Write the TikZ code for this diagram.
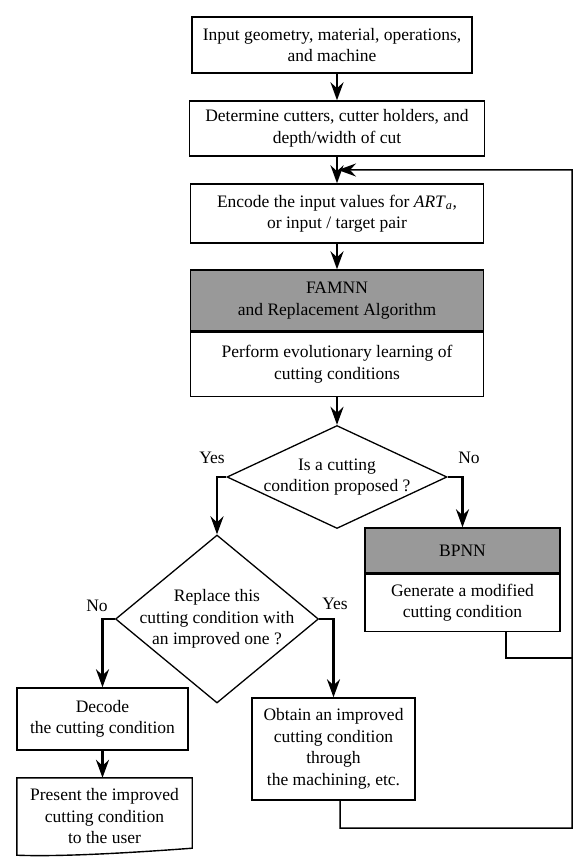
\documentclass[tikz,border=0pt]{standalone}
\usepackage{fontspec}
\setmainfont{Liberation Serif}
\usetikzlibrary{
    positioning,      % 相对定位
    arrows.meta,      % 箭头样式
    shapes.geometric, % 菱形
    calc              % 坐标计算
}

\begin{document}
\begin{tikzpicture}[
        x=1pt, y=-1pt,
        font=\fontsize{17.5}{21.5}\selectfont,
        box/.style={
            rectangle,
            draw=black,
            line width=1.4pt,
            align=center,
            inner sep=2pt,
            fill=#1
        },
        box/.default=white,
        decision/.style={
            diamond,
            draw=black,
            line width=1.3pt,
            inner sep=0pt
        },
        arrow/.style={
            -{Stealth[length=18pt,width=13pt,inset=6pt]},
            line width=2.6pt
        },
        back/.style={
            -{Stealth[length=18pt,width=13pt,inset=6pt]},
            line width=1.5pt
        },
        link/.style={
            line width=1.5pt
        }
    ]
    \path[use as bounding box] (0,0) rectangle (575,858);

    % 上部：输入与编码
    \node[box, minimum width=280pt, minimum height=56pt] (input) at (332,45) {Input geometry, material, operations,\\and machine};
    \node[box, minimum width=295pt, minimum height=55pt] (determine) at (337,128.5) {Determine cutters, cutter holders, and\\depth/width of cut};
    \node[box, minimum width=293pt, minimum height=59pt] (encode) at (337,213.5) {Encode the input values for \textit{ART}\textsubscript{\textit{a}},\\or input / target pair};

    % FAMNN
    \node[box=black!40, minimum width=293pt, minimum height=61pt] (famnn) at (337,300.5) {FAMNN\\and Replacement Algorithm};
    \node[box, minimum width=293pt, minimum height=64pt, below=0pt of famnn] (learn) {Perform evolutionary learning of\\cutting conditions};

    % 第一个判断
    \node[decision, minimum width=220pt, minimum height=103pt] (q1) at (337,477) {};
    \node[align=center] (q1text) at (q1) {Is a cutting\\condition proposed ?};
    \node (yes1) at (212,458) {Yes};
    \node (no1) at (469,458) {No};

    % BPNN
    \node[box=black!40, minimum width=195pt, minimum height=45pt] (bpnn) at (462.5,550.5) {BPNN};
    \node[box, minimum width=195pt, minimum height=57pt, below=0pt of bpnn] (modify) {Generate a modified\\cutting condition};

    % 第二个判断
    \node[decision, minimum width=203pt, minimum height=168pt] (q2) at (217,619) {};
    \node[align=center] (q2text) at (q2) {Replace this\\cutting condition with\\an improved one ?};
    \node (no2) at (97,606) {No};
    \node (yes2) at (335,604) {Yes};

    % 下部
    \node[box, minimum width=171pt, minimum height=62pt] (decode) at (102.5,719) {Decode\\the cutting condition};
    \node[minimum width=175pt, minimum height=77pt, align=center, inner sep=0pt] (present) at (104.5,816.5) {Present the improved\\cutting condition\\to the user};
    \draw[line width=1.4pt] (present.north west) -- (present.north east) -- ([yshift=7pt]present.south east)
        .. controls +(-40pt,-3pt) and +(50pt,-2pt) .. (present.south west) -- cycle;
    \node[box, minimum width=163pt, minimum height=102pt] (obtain) at (333.5,749) {Obtain an improved\\cutting condition\\through\\the machining, etc.};

    % 回路坐标
    \coordinate (merge) at ($(determine.south)!0.5!(encode.north)$);
    \coordinate (rtop) at (572,170);
    \coordinate (rmid) at (572,658);
    \coordinate (rbot) at (572,828);

    % 箭头连接
    \draw[arrow] (input.south -| determine.north) -- (determine.north);
    \draw[arrow] (determine.south) -- (encode.north);
    \draw[arrow] (encode.south) -- (famnn.north);
    \draw[arrow] (learn.south) -- (q1.north);
    \draw[arrow] (q1.west) -| (q2.north);
    \draw[arrow] (q1.east) -| (bpnn.north);
    \draw[arrow] (q2.west) -| (decode.north);
    \draw[arrow] (q2.east) -| (obtain.north);
    \draw[arrow] (decode.south) -- (decode.south |- present.north);

    % 反馈回路
    \draw[link] ([xshift=43.5pt]modify.south) |- (rmid);
    \draw[back] ([xshift=6.5pt]obtain.south) |- (rbot) -- (rtop) -- ([xshift=1pt]merge);
\end{tikzpicture}
\end{document}
